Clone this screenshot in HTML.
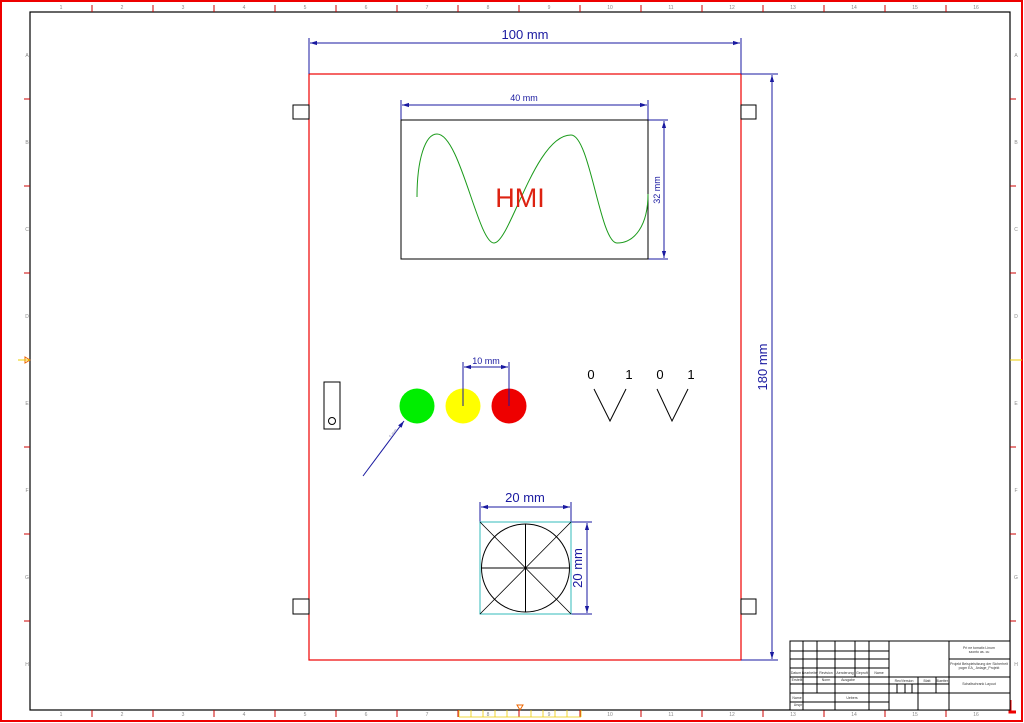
<!DOCTYPE html>
<html><head><meta charset="utf-8"><style>body{margin:0;background:#fff}svg{display:block}</style></head>
<body>
<svg width="1024" height="723" viewBox="0 0 1024 723" xmlns="http://www.w3.org/2000/svg" font-family="Liberation Sans, sans-serif">
<defs>
<marker id="a" viewBox="0 0 10 10" refX="10" refY="5" markerWidth="7" markerHeight="7" orient="auto-start-reverse"><path d="M0,2 L10,5 L0,8 z" fill="#1a1aa0"/></marker>
</defs>
<rect x="1" y="1" width="1021" height="720" fill="none" stroke="#e00" stroke-width="2"/>
<rect x="30" y="12" width="980" height="698" fill="none" stroke="#000" stroke-width="1.2"/>
<g stroke="#c00" stroke-width="1">
<path d="M92,5V12M153,5V12M214,5V12M275,5V12M336,5V12M397,5V12M458,5V12M519,5V12M580,5V12M641,5V12M702,5V12M763,5V12M824,5V12M885,5V12M946,5V12"/>
<path d="M92,710V717M153,710V717M214,710V717M275,710V717M336,710V717M397,710V717M458,710V717M519,710V717M580,710V717M641,710V717M702,710V717M763,710V717M824,710V717M885,710V717M946,710V717"/>
<path d="M24,99H30M24,186H30M24,273H30M24,360H30M24,447H30M24,534H30M24,621H30"/>
<path d="M1010,99H1016M1010,186H1016M1010,273H1016M1010,360H1016M1010,447H1016M1010,534H1016M1010,621H1016"/>
</g>
<g fill="#888" font-size="5" text-anchor="middle">
<text x="61" y="9">1</text><text x="122" y="9">2</text><text x="183" y="9">3</text><text x="244" y="9">4</text><text x="305" y="9">5</text><text x="366" y="9">6</text><text x="427" y="9">7</text><text x="488" y="9">8</text><text x="549" y="9">9</text><text x="610" y="9">10</text><text x="671" y="9">11</text><text x="732" y="9">12</text><text x="793" y="9">13</text><text x="854" y="9">14</text><text x="915" y="9">15</text><text x="976" y="9">16</text>
<text x="61" y="716">1</text><text x="122" y="716">2</text><text x="183" y="716">3</text><text x="244" y="716">4</text><text x="305" y="716">5</text><text x="366" y="716">6</text><text x="427" y="716">7</text><text x="488" y="716">8</text><text x="549" y="716">9</text><text x="610" y="716">10</text><text x="671" y="716">11</text><text x="732" y="716">12</text><text x="793" y="716">13</text><text x="854" y="716">14</text><text x="915" y="716">15</text><text x="976" y="716">16</text>
<text x="27" y="57">A</text><text x="27" y="144">B</text><text x="27" y="231">C</text><text x="27" y="318">D</text><text x="27" y="405">E</text><text x="27" y="492">F</text><text x="27" y="579">G</text><text x="27" y="666">H</text>
<text x="1016" y="57">A</text><text x="1016" y="144">B</text><text x="1016" y="231">C</text><text x="1016" y="318">D</text><text x="1016" y="405">E</text><text x="1016" y="492">F</text><text x="1016" y="579">G</text><text x="1016" y="666">H</text>
</g>
<path d="M30,360l-5,-3v6z" fill="none" stroke="#e60"/><line x1="18" y1="360" x2="30" y2="360" stroke="#ec0"/>
<line x1="1010" y1="360" x2="1022" y2="360" stroke="#ec0"/>
<path d="M520,710l-3,-5h6z" fill="none" stroke="#e60"/>
<g stroke="#ec0" stroke-width="0.8"><line x1="459" y1="717" x2="581" y2="717"/><path d="M459,710V717M471,710V717M483,710V717M495,710V717M507,710V717M531,710V717M543,710V717M555,710V717M567,710V717M581,710V717"/></g>
<path d="M1010,700V712H1016" fill="none" stroke="#e00" stroke-width="3"/>

<rect x="309" y="74" width="432" height="586" fill="none" stroke="#e00" stroke-width="1.2"/>
<g fill="#fff" stroke="#000" stroke-width="1"><rect x="293" y="105" width="16" height="14"/><rect x="741" y="105" width="15" height="14"/><rect x="293" y="599" width="16" height="15"/><rect x="741" y="599" width="15" height="15"/></g>

<g stroke="#1a1aa0" stroke-width="1" fill="none">
<line x1="309" y1="38" x2="309" y2="74"/><line x1="741" y1="38" x2="741" y2="74"/>
<line x1="310" y1="43" x2="740" y2="43" marker-start="url(#a)" marker-end="url(#a)"/>
<line x1="741" y1="74" x2="778" y2="74"/><line x1="741" y1="660" x2="778" y2="660"/>
<line x1="772" y1="75" x2="772" y2="659" marker-start="url(#a)" marker-end="url(#a)"/>
<line x1="401" y1="100" x2="401" y2="120"/><line x1="648" y1="100" x2="648" y2="120"/>
<line x1="402" y1="105" x2="647" y2="105" marker-start="url(#a)" marker-end="url(#a)"/>
<line x1="648" y1="120" x2="668" y2="120"/><line x1="648" y1="259" x2="668" y2="259"/>
<line x1="664" y1="121" x2="664" y2="258" marker-start="url(#a)" marker-end="url(#a)"/>
<line x1="463" y1="362" x2="463" y2="406"/><line x1="509" y1="362" x2="509" y2="406"/>
<line x1="464" y1="367" x2="508" y2="367" marker-start="url(#a)" marker-end="url(#a)"/>
<line x1="480" y1="502" x2="480" y2="522"/><line x1="571" y1="502" x2="571" y2="522"/>
<line x1="481" y1="507" x2="570" y2="507" marker-start="url(#a)" marker-end="url(#a)"/>
<line x1="571" y1="522" x2="592" y2="522"/><line x1="571" y1="614" x2="592" y2="614"/>
<line x1="587" y1="523" x2="587" y2="613" marker-start="url(#a)" marker-end="url(#a)"/>
<line x1="363" y1="476" x2="404" y2="421" marker-end="url(#a)"/>
</g>
<g fill="#1a1aa0">
<text x="525" y="39" font-size="13" text-anchor="middle">100 mm</text>
<text x="524" y="101" font-size="9" text-anchor="middle">40 mm</text>
<text transform="translate(660,190) rotate(-90)" font-size="9" text-anchor="middle">32 mm</text>
<text transform="translate(767,367) rotate(-90)" font-size="13" text-anchor="middle">180 mm</text>
<text x="486" y="364" font-size="9" text-anchor="middle">10 mm</text>
<text x="525" y="502" font-size="13" text-anchor="middle">20 mm</text>
<text transform="translate(582,568) rotate(-90)" font-size="13" text-anchor="middle">20 mm</text>
<text transform="translate(391,438) rotate(-52)" font-size="4" fill="#88a">5 mm</text>
</g>

<rect x="401" y="120" width="247" height="139" fill="none" stroke="#000" stroke-width="1"/>
<path d="M417,197 C417,160 425,134 437,134 C460,134 478,243 494,243 C510,243 535,135 571,135 C590,135 600,243 617,243 C635,243 648,225 648,194" fill="none" stroke="#1a9a1a" stroke-width="1"/>
<text x="520" y="207" font-size="27" fill="#d21" text-anchor="middle">HMI</text>

<rect x="324" y="382" width="16" height="47" fill="none" stroke="#000"/>
<circle cx="332" cy="421" r="3.5" fill="none" stroke="#000"/>
<circle cx="417" cy="406" r="17.5" fill="#0e0"/>
<circle cx="463" cy="406" r="17.5" fill="#ff0"/>
<circle cx="509" cy="406" r="17.5" fill="#e00"/>
<line x1="463" y1="362" x2="463" y2="406" stroke="#1a1aa0"/><line x1="509" y1="362" x2="509" y2="406" stroke="#1a1aa0"/>

<g font-size="13" fill="#000" text-anchor="middle"><text x="591" y="379">0</text><text x="629" y="379">1</text><text x="660" y="379">0</text><text x="691" y="379">1</text></g>
<path d="M594,389 L610,421 L626,389 M657,389 L672,421 L688,389" fill="none" stroke="#000"/>

<rect x="480" y="522" width="91" height="92" fill="none" stroke="#3bb"/>
<path d="M480,522L571,614M571,522L480,614" stroke="#000" stroke-width="0.8"/>
<circle cx="525.5" cy="568" r="44" fill="none" stroke="#000"/>
<path d="M525.5,524V612M481.5,568H569.5" stroke="#000"/>

<g stroke="#000" stroke-width="1" fill="none">
<rect x="790" y="641" width="220" height="69" fill="#fff"/>
<path d="M790,651H889M790,659H889M790,668H889M790,677H889M790,684H889M790,693H889M790,702H889"/>
<path d="M803,641V710M817,641V693M835,641V710M855,641V677M869,641V710M889,641V710M949,641V710"/>
<path d="M949,659H1010M949,677H1010M949,693H1010M889,677H949M889,693H949M889,684H949M918,677V710M936,677V693M897,684V693M905,684V693M912,684V693"/>
</g>
<g font-size="3.5" fill="#333" text-anchor="middle">
<text x="979" y="649">Pri ne tomatix Linum</text><text x="979" y="653">szonto as. cu</text>
<text x="979" y="665">Projekt Beispielsitzung der Sicherheit</text><text x="979" y="669">pcgm EA_ Anlage_Projekt</text>
<text x="979" y="685">Schaltschrank Layout</text>
<text x="904" y="682">Rev/Version</text><text x="927" y="682">Blatt</text><text x="942" y="682">Blaetter</text>
<text x="796" y="674">Datum</text><text x="810" y="674">Bearbeiter</text><text x="826" y="674">Revision</text><text x="845" y="674">Aenderung</text><text x="862" y="674">Gepruft</text><text x="879" y="674">Name</text>
<text x="797" y="681">Erstellt</text><text x="826" y="681">Norm</text><text x="848" y="681">Ausgabe</text>
<text x="797" y="699">Name</text><text x="852" y="699">Uebers</text><text x="798" y="706">Urspr</text>
</g>
</svg>
</body></html>
